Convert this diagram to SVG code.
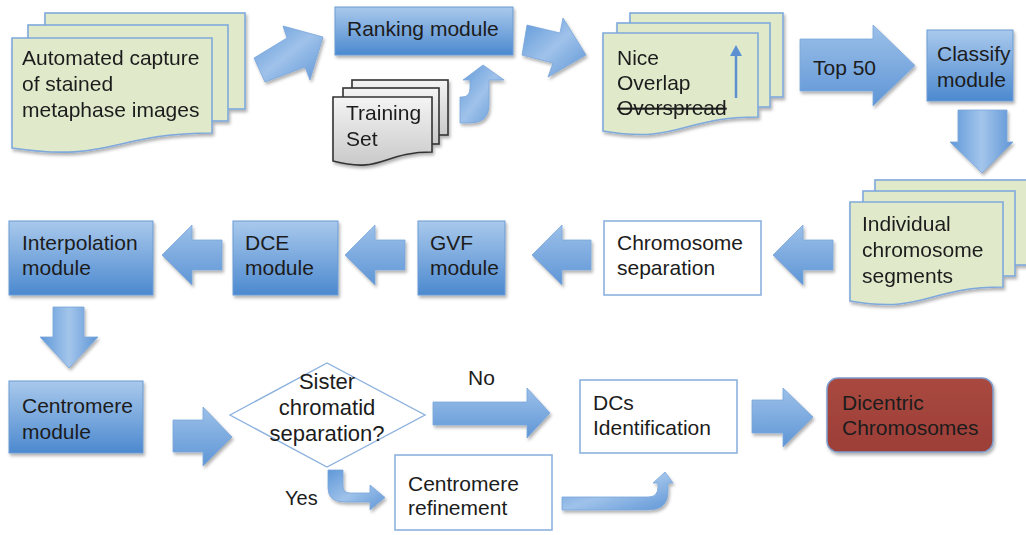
<svg xmlns="http://www.w3.org/2000/svg" width="1026" height="535" viewBox="0 0 1026 535">
<defs>
<linearGradient id="boxG" x1="0" y1="0" x2="0" y2="1">
<stop offset="0" stop-color="#a9c9ec"/><stop offset="1" stop-color="#4c89cf"/>
</linearGradient>
<linearGradient id="arrG" x1="0" y1="0" x2="1" y2="1">
<stop offset="0" stop-color="#5f98d8"/><stop offset="0.5" stop-color="#9fc2ea"/><stop offset="1" stop-color="#5f96d6"/>
</linearGradient>
<linearGradient id="arrV" x1="0" y1="0" x2="1" y2="0">
<stop offset="0" stop-color="#5f98d8"/><stop offset="0.5" stop-color="#a3c5eb"/><stop offset="1" stop-color="#5f96d6"/>
</linearGradient>
<linearGradient id="arrH" x1="0" y1="0" x2="0" y2="1">
<stop offset="0" stop-color="#9cc0e9"/><stop offset="1" stop-color="#5f96d6"/>
</linearGradient>
<linearGradient id="grayG" x1="0" y1="0" x2="0" y2="1">
<stop offset="0" stop-color="#f4f4f4"/><stop offset="1" stop-color="#c9c9c9"/>
</linearGradient>
<linearGradient id="redG" x1="0" y1="0" x2="0" y2="1">
<stop offset="0" stop-color="#a9483f"/><stop offset="1" stop-color="#9c3f38"/>
</linearGradient>
<filter id="sh" x="-20%" y="-20%" width="140%" height="150%">
<feDropShadow dx="1.5" dy="2.5" stdDeviation="1.8" flood-color="#000" flood-opacity="0.3"/>
</filter>
</defs>
<style>
text{font-family:"Liberation Sans",Arial,sans-serif;font-size:21px;fill:#1c1c1c}
.ar{font-family:"Liberation Sans",Arial,sans-serif}
.blue{fill:url(#boxG);stroke:#6b9bd4;stroke-width:1;filter:url(#sh)}
.white{fill:#fff;stroke:#8db2de;stroke-width:1.6}
.green{fill:#e0eacb;stroke:#7fa9db;stroke-width:1.6}
.gray{fill:url(#grayG);stroke:#333;stroke-width:1.6}
.arr{fill:url(#arrG);stroke:#7aa6da;stroke-width:0.8;filter:url(#sh)}
.arrv{fill:url(#arrV);stroke:#7aa6da;stroke-width:0.8;filter:url(#sh)}
.arrh{fill:url(#arrH);stroke:#7aa6da;stroke-width:0.8;filter:url(#sh)}
</style>

<g id="capture" filter="url(#sh)">
<rect class="green" x="45" y="13" width="200" height="96"/>
<rect class="green" x="28" y="25" width="200" height="96"/>
<path class="green" d="M12,38 H212 V133 C112,133 112,163 12,148 Z"/>
<text x="22" y="65">Automated capture</text>
<text x="22" y="91">of stained</text>
<text x="22" y="117">metaphase images</text>
</g>

<g id="ranking">
<rect class="blue" x="335" y="7" width="178" height="48"/>
<text x="347" y="36">Ranking module</text>
</g>

<g id="training" filter="url(#sh)">
<rect class="gray" x="352" y="80" width="96" height="55"/>
<rect class="gray" x="343" y="88" width="96" height="56"/>
<path class="gray" d="M333,97 H432 V152 C382,152 382,174 333,161 Z"/>
<text x="346" y="120">Training</text>
<text x="346" y="146">Set</text>
</g>

<g id="nice" filter="url(#sh)">
<rect class="green" x="630" y="13" width="153" height="84"/>
<rect class="green" x="617" y="23" width="153" height="84"/>
<path class="green" d="M603,33 H758 V117 C680,117 680,144 603,131 Z"/>
<text x="617" y="65">Nice</text>
<text x="617" y="90">Overlap</text>
<text x="617" y="115" text-decoration="line-through">Overspread</text>
<line x1="736" y1="98" x2="736" y2="54" stroke="#5b90d0" stroke-width="2.5"/>
<polygon points="730,56 736,45 742,56" fill="#5b90d0"/>
</g>

<g id="classify">
<rect class="blue" x="927" y="30" width="86" height="71"/>
<text x="937" y="61">Classify</text>
<text x="937" y="87">module</text>
</g>

<g id="segments" filter="url(#sh)">
<rect class="green" x="875" y="180" width="156" height="85"/>
<rect class="green" x="863" y="191" width="152" height="85"/>
<path class="green" d="M850,202 H1003 V287 C926,287 926,314 850,301 Z"/>
<text x="862" y="231">Individual</text>
<text x="862" y="257">chromosome</text>
<text x="862" y="283">segments</text>
</g>

<g id="chromsep">
<rect class="white" x="604" y="221" width="157" height="74"/>
<text x="617" y="250">Chromosome</text>
<text x="617" y="275">separation</text>
</g>

<g id="gvf">
<rect class="blue" x="418" y="221" width="87" height="74"/>
<text x="430" y="250">GVF</text>
<text x="430" y="275">module</text>
</g>

<g id="dce">
<rect class="blue" x="233" y="221" width="105" height="74"/>
<text x="245" y="250">DCE</text>
<text x="245" y="275">module</text>
</g>

<g id="interp">
<rect class="blue" x="9" y="221" width="144" height="74"/>
<text x="22" y="250">Interpolation</text>
<text x="22" y="275">module</text>
</g>

<g id="centromere">
<rect class="blue" x="9" y="381" width="134" height="72"/>
<text x="22" y="413">Centromere</text>
<text x="22" y="439">module</text>
</g>

<g id="decision">
<polygon points="230,415 327,363 425,415 327,467" fill="#fff" stroke="#8db2de" stroke-width="1.4"/>
<text class="ar" x="327" y="389" text-anchor="middle" style="font-size:22px">Sister</text>
<text class="ar" x="327" y="415" text-anchor="middle" style="font-size:22px">chromatid</text>
<text class="ar" x="327" y="441" text-anchor="middle" style="font-size:22px">separation?</text>
</g>

<g id="refinement">
<rect class="white" x="395" y="455" width="157" height="75"/>
<text x="408" y="491">Centromere</text>
<text x="408" y="515">refinement</text>
</g>

<g id="dcs">
<rect class="white" x="580" y="380" width="157" height="73"/>
<text x="593" y="410">DCs</text>
<text x="593" y="435">Identification</text>
</g>

<g id="dicentric">
<rect x="827" y="378" width="166" height="74" rx="11" fill="url(#redG)" stroke="#7e9ccc" stroke-width="1.5" filter="url(#sh)"/>
<text x="842" y="410">Dicentric</text>
<text x="842" y="435">Chromosomes</text>
</g>

<g id="connectors">
<polygon class="arr" points="254,58 287,38 283,26 323,37 310,80 305,67 265,82"/>
<polygon class="arr" points="527,25 560,33 563,18 586,55 548,77 553,63 522,55"/>
<path class="arr" d="M460,97 L462,97 Q470,97 470,88 L470,80 L463,80 L483,65 L504,80 L489,80 L489,105 Q489,123 470,123 L460,123 Z"/>
<polygon class="arrh" points="800,39 873,39 873,25 915,65.5 873,106 873,91 800,91"/>
<text x="813" y="75">Top 50</text>
<polygon class="arrv" points="958,110 1007,110 1007,142 1013,142 982,173 950,142 958,142"/>
<polygon class="arrh" points="833,240 803,240 803,225 773,255 803,285 803,270 833,270"/>
<polygon class="arrh" points="591,240 562,240 562,225 532,255 562,285 562,270 591,270"/>
<polygon class="arrh" points="405,240 375,240 375,225 345,255 375,285 375,270 405,270"/>
<polygon class="arrh" points="222,240 192,240 192,225 162,255 192,285 192,270 222,270"/>
<polygon class="arrv" points="53,307 84,307 84,337 98,337 69,368 40,337 53,337"/>
<polygon class="arrh" points="173,420 203,420 203,407 232,437 203,466 203,452 173,452"/>
<polygon class="arrh" points="433,402 527,402 527,388 550,413 527,438 527,425 433,425"/>
<text class="ar" x="468" y="385">No</text>
<polygon class="arrh" points="752,400 783,400 783,388 813,417 783,447 783,433 752,433"/>
<path class="arr" d="M328,470 L343,470 L343,486 Q343,493 350,493 L370,493 L370,485 L385,497.5 L370,510 L370,502 L345,502 Q328,502 328,488 Z"/>
<text class="ar" x="285" y="505" style="font-size:20px">Yes</text>
<path class="arr" d="M562,497 L648,497 Q658,497 658,487 L658,483 L653,483 L665,472 L673,483 L668,483 L668,492 Q668,510 648,510 L562,510 Z"/>
</g>
</svg>
